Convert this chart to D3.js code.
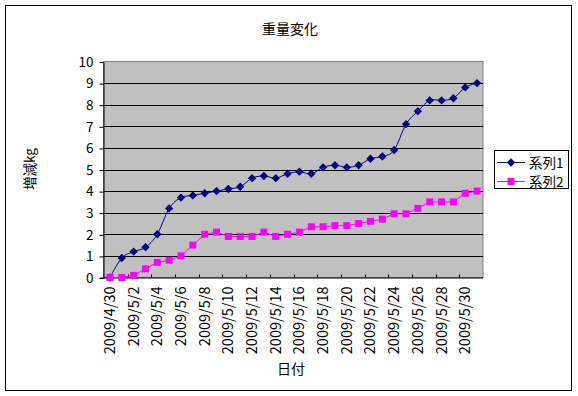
<!DOCTYPE html>
<html>
<head>
<meta charset="utf-8">
<script src="https://cdn.jsdelivr.net/npm/d3@7"></script>
<style>
  body { margin: 0; background: #fff; }
  text { font-family: "Noto Sans CJK JP", "DejaVu Sans", sans-serif; font-size: 13.5px; fill: #000; }
</style>
</head>
<body>
<svg id="chart" width="578" height="396"></svg>
<script>
// data
const dates = ['2009/4/30', '2009/5/1', '2009/5/2', '2009/5/3', '2009/5/4', '2009/5/5', '2009/5/6', '2009/5/7',
    '2009/5/8', '2009/5/9', '2009/5/10', '2009/5/11', '2009/5/12', '2009/5/13', '2009/5/14', '2009/5/15',
    '2009/5/16', '2009/5/17', '2009/5/18', '2009/5/19', '2009/5/20', '2009/5/21', '2009/5/22', '2009/5/23',
    '2009/5/24', '2009/5/25', '2009/5/26', '2009/5/27', '2009/5/28', '2009/5/29', '2009/5/30', '2009/5/31'];
const series1 = [0, 0.9, 1.2, 1.4, 2.0, 3.2, 3.7, 3.8, 3.9, 4.0, 4.1, 4.2, 4.6, 4.7, 4.6, 4.8,
    4.9, 4.8, 5.1, 5.2, 5.1, 5.2, 5.5, 5.6, 5.9, 7.1, 7.7, 8.2, 8.2, 8.3, 8.8, 9.0];
const series2 = [0, 0, 0.1, 0.4, 0.7, 0.8, 1.0, 1.5, 2.0, 2.1, 1.9, 1.9, 1.9, 2.1, 1.9, 2.0,
    2.1, 2.35, 2.35, 2.4, 2.4, 2.5, 2.6, 2.7, 2.95, 2.95, 3.2, 3.5, 3.5, 3.5, 3.9, 4.0];
const yTicks = [0, 1, 2, 3, 4, 5, 6, 7, 8, 9, 10];
const seriesNames = ['系列1', '系列2'];

const svg = d3.select('#chart');
const plot = { left: 104, right: 483, top: 61.5, bottom: 277.5 };

// outer chart frame
svg.append('rect')
    .attr('x', 5.5).attr('y', 5.5)
    .attr('width', 566).attr('height', 385)
    .attr('fill', '#fff').attr('stroke', '#000');

const x = d3.scaleBand().domain(dates).range([plot.left, plot.right]);
const y = d3.scaleLinear().domain([0, 10]).range([plot.bottom, plot.top]);

// plot area
svg.append('rect')
    .attr('x', plot.left - 0.5).attr('y', plot.top)
    .attr('width', plot.right - plot.left + 0.5).attr('height', plot.bottom - plot.top)
    .attr('fill', '#c0c0c0').attr('stroke', '#808080');

// gridlines
svg.append('g')
    .selectAll('line')
    .data(yTicks.slice(1, -1))
    .join('line')
    .attr('x1', plot.left).attr('x2', plot.right)
    .attr('y1', d => Math.round(y(d)) + 0.5).attr('y2', d => Math.round(y(d)) + 0.5)
    .attr('stroke', '#000');

// y axis
const yAxis = svg.append('g')
    .attr('transform', `translate(${plot.left - 0.5},0.5)`)
    .call(d3.axisLeft(y).tickValues(yTicks).tickSize(4).tickPadding(6).tickSizeOuter(0));
yAxis.select('.domain').attr('stroke', '#000');
yAxis.selectAll('text').attr('font-family', null).attr('font-size', null);

// x axis: ticks every two categories, pointing inward
const tickPos = d3.range(0, dates.length + 1, 2).map(i => plot.left + i * x.step());
svg.append('line')
    .attr('x1', plot.left - 4).attr('x2', plot.right)
    .attr('y1', plot.bottom + 0.5).attr('y2', plot.bottom + 0.5)
    .attr('stroke', '#000');
svg.append('g')
    .selectAll('line')
    .data(tickPos.slice(1, -1))
    .join('line')
    .attr('x1', d => Math.round(d) + 0.5).attr('x2', d => Math.round(d) + 0.5)
    .attr('y1', plot.bottom).attr('y2', plot.bottom - 3)
    .attr('stroke', '#000');

svg.append('g')
    .selectAll('text')
    .data(dates.filter((d, i) => i % 2 === 0))
    .join('text')
    .attr('transform', d => `translate(${x(d) + x.bandwidth() / 2 + 5},${plot.bottom + 9}) rotate(-90)`)
    .attr('text-anchor', 'end')
    .style('font-size', '14.5px')
    .text(d => d);

// lines
const cx = (d, i) => x(dates[i]) + x.bandwidth() / 2;
const line1 = d3.line().x(cx).y(d => y(d)).curve(d3.curveCardinal.tension(0));
const line2 = d3.line().x(cx).y(d => y(d));

svg.append('path')
    .datum(series1)
    .attr('d', line1)
    .attr('fill', 'none').attr('stroke', '#000080').attr('stroke-width', 1);
svg.append('path')
    .datum(series2)
    .attr('d', line2)
    .attr('fill', 'none').attr('stroke', '#ff00ff').attr('stroke-width', 1);

const diamond = d3.symbol().type(d3.symbolDiamond2).size(45);
svg.append('g')
    .selectAll('path')
    .data(series1)
    .join('path')
    .attr('transform', (d, i) => `translate(${cx(d, i)},${y(d)})`)
    .attr('d', diamond)
    .attr('fill', '#000080');
svg.append('g')
    .selectAll('rect')
    .data(series2)
    .join('rect')
    .attr('x', (d, i) => cx(d, i) - 3.5).attr('y', d => y(d) - 3.5)
    .attr('width', 7).attr('height', 7)
    .attr('fill', '#ff00ff');

// titles
svg.append('text')
    .attr('x', 290).attr('y', 34)
    .attr('text-anchor', 'middle')
    .style('font-size', '14px')
    .text('重量変化');
svg.append('text')
    .attr('x', 291).attr('y', 374)
    .attr('text-anchor', 'middle')
    .style('font-size', '14px')
    .text('日付');
svg.append('text')
    .attr('transform', 'translate(35,169) rotate(-90)')
    .attr('text-anchor', 'middle')
    .text('増減kg');

// legend
const legend = svg.append('g');
legend.append('rect')
    .attr('x', 494.5).attr('y', 150.5)
    .attr('width', 74).attr('height', 38)
    .attr('fill', '#fff').attr('stroke', '#000');
const colors = ['#000080', '#ff00ff'];
seriesNames.forEach((name, i) => {
    const ly = 162.5 + i * 19;
    legend.append('line')
        .attr('x1', 497).attr('x2', 525)
        .attr('y1', ly).attr('y2', ly)
        .attr('stroke', colors[i]);
    if (i === 0) {
        legend.append('path')
            .attr('transform', `translate(511,${ly})`)
            .attr('d', diamond)
            .attr('fill', colors[i]);
    } else {
        legend.append('rect')
            .attr('x', 507.5).attr('y', ly - 3.5)
            .attr('width', 7).attr('height', 7)
            .attr('fill', colors[i]);
    }
    legend.append('text')
        .attr('x', 529).attr('y', ly + 5)
        .text(name);
});
</script>
</body>
</html>
